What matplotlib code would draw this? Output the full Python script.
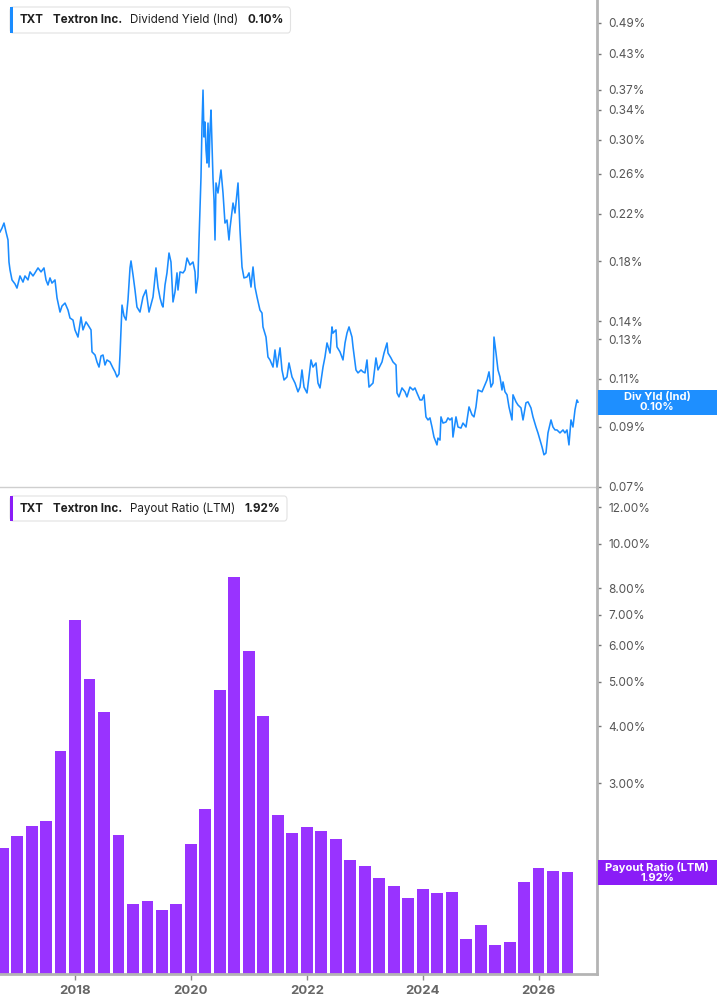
import numpy as np
import matplotlib
matplotlib.use("Agg")
import matplotlib.pyplot as plt
from matplotlib.patches import FancyBboxPatch, Rectangle
from matplotlib.ticker import NullLocator

plt.rcParams['font.family'] = ['Inter', 'DejaVu Sans']

# dividend yield (Ind), % -- dates as decimal years
div_dates = [
    2016.705, 2016.740, 2016.774, 2016.809, 2016.843, 2016.860, 2016.878, 2016.912,
    2016.964, 2016.998, 2017.050, 2017.102, 2017.136, 2017.188, 2017.223, 2017.275,
    2017.309, 2017.361, 2017.413, 2017.464, 2017.499, 2017.533, 2017.568, 2017.602,
    2017.654, 2017.689, 2017.741, 2017.775, 2017.827, 2017.879, 2017.913, 2017.965,
    2017.999, 2018.051, 2018.103, 2018.137, 2018.189, 2018.224, 2018.276, 2018.293,
    2018.345, 2018.379, 2018.414, 2018.448, 2018.483, 2018.517, 2018.552, 2018.604,
    2018.655, 2018.690, 2018.724, 2018.759, 2018.776, 2018.811, 2018.845, 2018.880,
    2018.914, 2018.949, 2018.966, 2019.001, 2019.035, 2019.069, 2019.121, 2019.173,
    2019.225, 2019.277,
    2019.346, 2019.397, 2019.432, 2019.467, 2019.501, 2019.518, 2019.553, 2019.587,
    2019.622, 2019.656, 2019.691, 2019.725, 2019.760, 2019.777, 2019.812, 2019.864,
    2019.898, 2019.933, 2019.984, 2020.036, 2020.071, 2020.088, 2020.122, 2020.140,
    2020.157, 2020.174, 2020.191, 2020.209, 2020.226, 2020.243, 2020.261, 2020.278,
    2020.295, 2020.312, 2020.330, 2020.347, 2020.364, 2020.381, 2020.399, 2020.416,
    2020.433, 2020.467, 2020.519, 2020.554, 2020.588, 2020.623, 2020.657,
    2020.675, 2020.727, 2020.761, 2020.813, 2020.847, 2020.882, 2020.916, 2020.968,
    2021.003, 2021.037, 2021.072, 2021.106, 2021.141, 2021.192, 2021.227, 2021.244,
    2021.296, 2021.330, 2021.365, 2021.417, 2021.451, 2021.486, 2021.538, 2021.572,
    2021.607, 2021.658, 2021.693, 2021.745, 2021.797, 2021.848, 2021.883, 2021.917,
    2021.952, 2022.004, 2022.038, 2022.073, 2022.107, 2022.159, 2022.193, 2022.228,
    2022.280, 2022.314, 2022.349, 2022.401, 2022.435, 2022.452, 2022.504, 2022.521,
    2022.573, 2022.625, 2022.660, 2022.694, 2022.729, 2022.780, 2022.798, 2022.849,
    2022.884, 2022.936, 2022.970, 2023.005, 2023.039, 2023.074, 2023.143, 2023.194,
    2023.229,
    2023.298, 2023.333, 2023.385, 2023.402, 2023.453, 2023.488, 2023.540, 2023.557,
    2023.591, 2023.643, 2023.695, 2023.729, 2023.781, 2023.833, 2023.867, 2023.902,
    2023.954, 2023.988, 2024.023, 2024.057, 2024.092, 2024.126, 2024.161, 2024.195,
    2024.247, 2024.264, 2024.299, 2024.316, 2024.351, 2024.403, 2024.437, 2024.472,
    2024.506, 2024.523, 2024.575, 2024.610, 2024.661, 2024.696, 2024.748, 2024.800,
    2024.852, 2024.886, 2024.920, 2024.955, 2025.024, 2025.058, 2025.110,
    2025.145, 2025.179, 2025.214, 2025.231, 2025.266, 2025.300, 2025.335, 2025.369,
    2025.387, 2025.421, 2025.456, 2025.490, 2025.542, 2025.559, 2025.611, 2025.645,
    2025.697, 2025.732, 2025.783, 2025.818, 2025.869, 2025.904, 2025.956, 2025.990,
    2026.025, 2026.060, 2026.094, 2026.128, 2026.163, 2026.215, 2026.249, 2026.284,
    2026.318, 2026.370, 2026.422, 2026.456, 2026.491, 2026.525, 2026.560, 2026.594,
    2026.629, 2026.663, 2026.681,
]
div_yield = [
    0.2037, 0.2071, 0.2115, 0.2037, 0.1970, 0.1796, 0.1737, 0.1666,
    0.1638, 0.1610, 0.1694, 0.1651, 0.1694, 0.1666, 0.1723, 0.1694,
    0.1716, 0.1752, 0.1723, 0.1752, 0.1666, 0.1631, 0.1680, 0.1644,
    0.1666, 0.1545, 0.1456, 0.1493, 0.1512, 0.1468, 0.1420, 0.1408,
    0.1351, 0.1311, 0.1426, 0.1351, 0.1397, 0.1379, 0.1351, 0.1232,
    0.1216, 0.1181, 0.1156, 0.1211, 0.1216, 0.1166, 0.1191, 0.1181,
    0.1151, 0.1133, 0.1109, 0.1123, 0.1216, 0.1499, 0.1432, 0.1408,
    0.1532, 0.1752, 0.1804, 0.1701, 0.1597, 0.1487, 0.1456, 0.1551,
    0.1597, 0.1456,
    0.1551, 0.1752, 0.1617, 0.1545, 0.1499, 0.1487, 0.1631, 0.1716,
    0.1865, 0.1796, 0.1519, 0.1584, 0.1716, 0.1597, 0.1723, 0.1716,
    0.1737, 0.1826, 0.1774, 0.1796, 0.1723, 0.1577, 0.1687, 0.1970,
    0.2234, 0.2565, 0.3164, 0.3694, 0.3034, 0.3231, 0.2873, 0.2720,
    0.3217, 0.2675, 0.3124, 0.3397, 0.2958, 0.2554, 0.2330, 0.1970,
    0.2502, 0.2399, 0.2642, 0.2399, 0.2115, 0.2142, 0.1970,
    0.2071, 0.2300, 0.2206, 0.2502, 0.2054, 0.1759, 0.1680, 0.1687,
    0.1716, 0.1617, 0.1759, 0.1617, 0.1551, 0.1468, 0.1450, 0.1368,
    0.1311, 0.1206, 0.1191, 0.1156, 0.1242, 0.1156, 0.1253, 0.1142,
    0.1095, 0.1109, 0.1176, 0.1109, 0.1081, 0.1042, 0.1063, 0.1142,
    0.1063, 0.1037, 0.1109, 0.1191, 0.1156, 0.1176, 0.1081, 0.1059,
    0.1156, 0.1206, 0.1279, 0.1226, 0.1368, 0.1333, 0.1351, 0.1258,
    0.1232, 0.1191, 0.1279, 0.1333, 0.1368, 0.1311, 0.1258, 0.1142,
    0.1128, 0.1142, 0.1133, 0.1128, 0.1191, 0.1063, 0.1081, 0.1201,
    0.1142,
    0.1181, 0.1226, 0.1279, 0.1226, 0.1201, 0.1181, 0.1166, 0.1037,
    0.1020, 0.1059, 0.1042, 0.1020, 0.1063, 0.1050, 0.1059, 0.1037,
    0.1007, 0.1007, 0.1029, 0.0938, 0.0926, 0.0934, 0.0899, 0.0862,
    0.0834, 0.0858, 0.0851, 0.0938, 0.0914, 0.0918, 0.0934, 0.0926,
    0.0934, 0.0862, 0.0938, 0.0899, 0.0895, 0.0914, 0.0899, 0.0978,
    0.0946, 0.0938, 0.0978, 0.1050, 0.1042, 0.1063, 0.1095,
    0.1133, 0.1063, 0.1081, 0.1311, 0.1226, 0.1142, 0.1109, 0.1050,
    0.1086, 0.1042, 0.1029, 0.0978, 0.0926, 0.1029, 0.0999, 0.0986,
    0.0974, 0.0926, 0.0995, 0.0999, 0.0974, 0.0938, 0.0899, 0.0877,
    0.0851, 0.0827, 0.0800, 0.0806, 0.0877, 0.0926, 0.0899, 0.0888,
    0.0888, 0.0877, 0.0888, 0.0877, 0.0888, 0.0834, 0.0926, 0.0899,
    0.0966, 0.1007, 0.0998,
]

# payout ratio (LTM), %, one bar per quarter end (Q3 2016 .. Q2 2026)
payout_dates = np.arange(2016.75, 2026.51, 0.25)
payout_ratio = [
    2.17, 2.30, 2.42, 2.48, 3.53, 6.81, 5.07, 4.29,
    2.31, 1.64, 1.66, 1.59, 1.64, 2.21, 2.64, 4.79,
    8.46, 5.83, 4.21, 2.56, 2.34, 2.41, 2.36, 2.27,
    2.04, 1.98, 1.86, 1.79, 1.69, 1.76, 1.73, 1.74,
    1.37, 1.47, 1.33, 1.35, 1.83, 1.96, 1.93, 1.92,
]

# right-axis labels (the 0.10% / 2.00% levels sit under the value tags)
yield_ticks = [0.07, 0.09, 0.11, 0.13, 0.14, 0.18, 0.22, 0.26, 0.30, 0.34, 0.37, 0.43, 0.49]
payout_ticks = [3, 4, 5, 6, 7, 8, 10, 12]
year_ticks = [2018, 2020, 2022, 2024, 2026]

BLUE = '#1a8cff'
PURPLE = '#9933ff'
PURPLE_DARK = '#8a1cf7'
AXIS_GRAY = '#b4b4b4'

W, H = 717, 1005


def fx(x):
    return x / W


def fy(y):
    return 1 - y / H


fig = plt.figure(figsize=(W / 100, H / 100), dpi=100)
ax1 = fig.add_axes([0, fy(487), fx(597), 487 / H])
ax2 = fig.add_axes([0, fy(974), fx(597), (974 - 487) / H])

xmin, xmax = 2016.705, 2027.009

# top panel: dividend yield line
ax1.plot(div_dates, div_yield, color=BLUE, lw=1.15, solid_joinstyle='round')
ax1.set_yscale('log')
ax1.set_ylim(0.0699, 0.539)
ax1.set_xlim(xmin, xmax)

# bottom panel: payout ratio bars
ax2.bar(payout_dates, np.array(payout_ratio) - 1.0, bottom=1.0, width=0.205,
        color=PURPLE, edgecolor='none')
ax2.set_yscale('log')
ax2.set_ylim(1.151, 13.29)
ax2.set_xlim(xmin, xmax)

for ax, ticks in ((ax1, yield_ticks), (ax2, payout_ticks)):
    ax.yaxis.tick_right()
    ax.yaxis.set_minor_locator(NullLocator())
    ax.set_yticks(ticks)
    ax.set_yticklabels(['%.2f%%' % t for t in ticks])
    ax.tick_params(axis='y', direction='out', length=3, width=1, color='#777777',
                   labelsize=8.5, labelcolor='#555555', pad=5)
    ax.spines['top'].set_visible(False)
    ax.spines['left'].set_visible(False)
    ax.spines['right'].set_color(AXIS_GRAY)
    ax.spines['right'].set_linewidth(2)
    ax.patch.set_alpha(0)

ax1.set_xticks([])
ax1.spines['bottom'].set_color('#cfcfcf')
ax1.spines['bottom'].set_linewidth(1)

ax2.set_xticks(year_ticks)
ax2.set_xticklabels([str(y) for y in year_ticks])
ax2.xaxis.set_minor_locator(NullLocator())
ax2.tick_params(axis='x', direction='out', length=4, width=1, color='#888888',
                labelsize=9.5, labelcolor='#666666', pad=4)
for lab in ax2.get_xticklabels():
    lab.set_fontweight('bold')
ax2.spines['bottom'].set_color(AXIS_GRAY)
ax2.spines['bottom'].set_linewidth(2)

renderer = fig.canvas.get_renderer()


def legend_box(y0, y1, color, parts):
    # lay the pieces out one after another, like the web legend chip
    yc = fy((y0 + y1) / 2)
    x = 20
    for txt, weight, gap in parts:
        t = fig.text(fx(x), yc, txt, fontsize=8.4, fontweight=weight, color='#1f1f1f',
                     ha='left', va='center', zorder=7)
        x += t.get_window_extent(renderer).width + gap
    x1 = x + 7
    box = FancyBboxPatch((fx(10), fy(y1)), fx(x1) - fx(10), (y1 - y0) / H,
                         boxstyle='round,pad=0,rounding_size=0.004',
                         transform=fig.transFigure, facecolor='white',
                         edgecolor='#e2e2e2', lw=0.8, zorder=5)
    fig.patches.append(box)
    fig.patches.append(Rectangle((fx(10), fy(y1)), 3 / W, (y1 - y0) / H,
                                 transform=fig.transFigure, facecolor=color,
                                 edgecolor='none', zorder=6))


legend_box(7, 33, BLUE, [('TXT', 'bold', 9), ('Textron Inc.', 'bold', 8),
                         ('Dividend Yield (Ind)', 'normal', 9), ('0.10%', 'bold', 0)])
legend_box(496, 521, PURPLE_DARK, [('TXT', 'bold', 9), ('Textron Inc.', 'bold', 8),
                                   ('Payout Ratio (LTM)', 'normal', 9), ('1.92%', 'bold', 0)])


def value_tag(ax, value, color, title):
    ypix = ax.transData.transform((xmin, value))[1]
    yc = ypix / H
    h = 25 / H
    fig.patches.append(Rectangle((fx(598), yc - h / 2), 1 - fx(598), h,
                                 transform=fig.transFigure, facecolor=color,
                                 edgecolor='none', zorder=5))
    fig.text(fx(657), yc, '%s\n%.2f%%' % (title, value), fontsize=8,
             fontweight='bold', color='white', ha='center', va='center',
             linespacing=1.0, zorder=6)


value_tag(ax1, div_yield[-1], '#1e8fff', 'Div Yld (Ind)')
value_tag(ax2, payout_ratio[-1], PURPLE_DARK, 'Payout Ratio (LTM)')

fig.savefig('out.png', dpi=100)
